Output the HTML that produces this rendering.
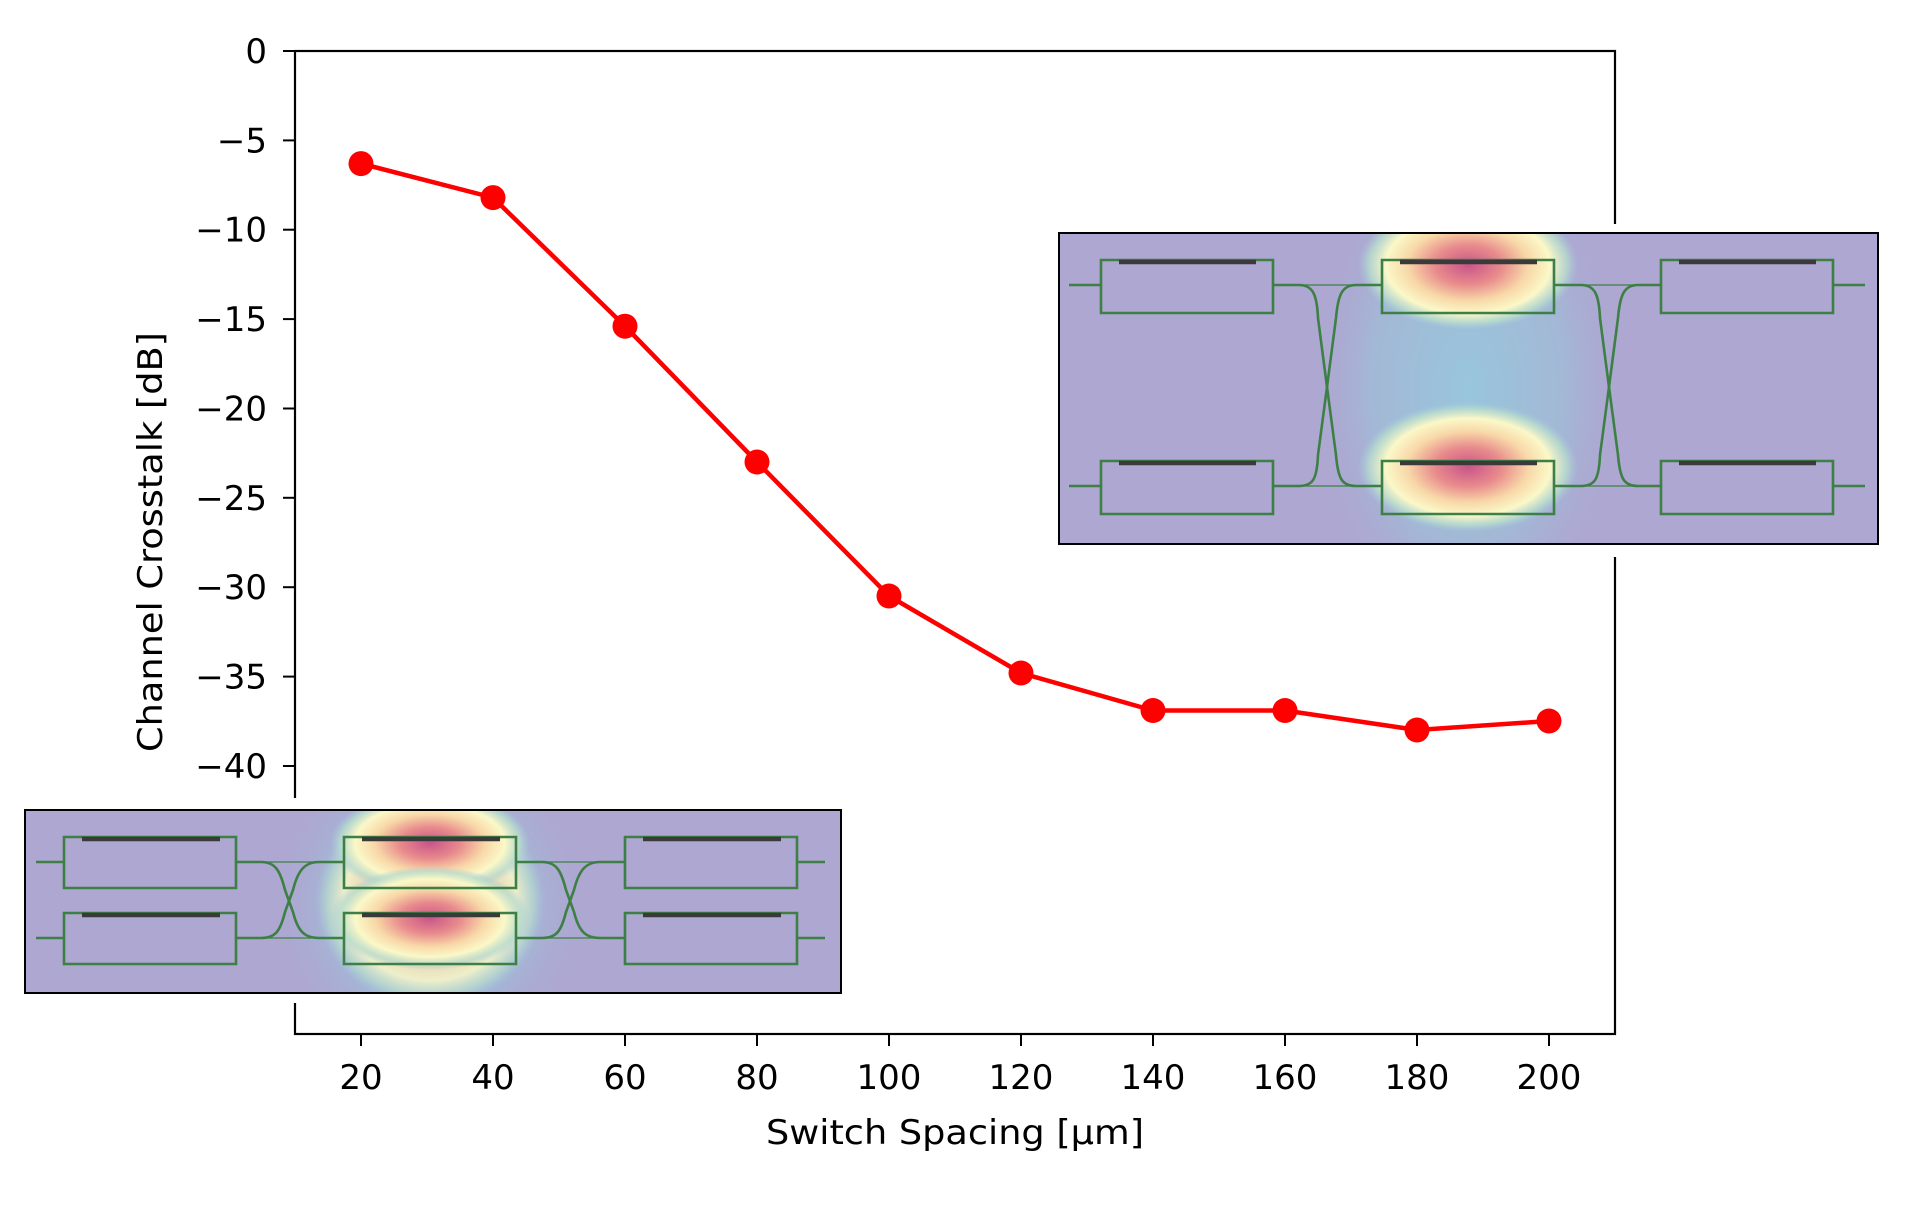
<!DOCTYPE html>
<html><head><meta charset="utf-8"><style>html,body{margin:0;padding:0;background:#fff}svg{display:block}</style></head>
<body>
<svg width="1920" height="1207" viewBox="0 0 1920 1207" xmlns="http://www.w3.org/2000/svg" font-family="DejaVu Sans, Liberation Sans, sans-serif">
<defs>
  <radialGradient id="hot" cx="0.5" cy="0.5" r="0.5">
    <stop offset="0" stop-color="#c8558a"/>
    <stop offset="0.3" stop-color="#e88a8c"/>
    <stop offset="0.55" stop-color="#f8d8a8"/>
    <stop offset="0.75" stop-color="#fbf8c8"/>
    <stop offset="0.9" stop-color="#b8dccc" stop-opacity="0.8"/>
    <stop offset="1" stop-color="#a8cadc" stop-opacity="0"/>
  </radialGradient>
  <radialGradient id="blue" cx="0.5" cy="0.5" r="0.5">
    <stop offset="0" stop-color="#98c6dc"/>
    <stop offset="0.6" stop-color="#9ec0d8" stop-opacity="0.7"/>
    <stop offset="1" stop-color="#aaa8d2" stop-opacity="0"/>
  </radialGradient>
  <clipPath id="c1"><rect x="0" y="0" width="819" height="311"/></clipPath>
  <clipPath id="c2"><rect x="0" y="0" width="816" height="183"/></clipPath>
  <g id="mzi">
    <path d="M0,25 L0,0 L172,0 L172,25 M0,25 L0,53 L172,53 L172,25" fill="none" stroke="#3d7f45" stroke-width="2.6"/>
    <line x1="18" y1="2" x2="155" y2="2" stroke="#3a3a3a" stroke-width="4.5"/>
  </g>
  <g id="mzi2">
    <path d="M0,25 L0,0 L172,0 L172,25 M0,25 L0,51 L172,51 L172,25" fill="none" stroke="#3d7f45" stroke-width="2.6"/>
    <line x1="18" y1="2" x2="156" y2="2" stroke="#3a3a3a" stroke-width="4.5"/>
  </g>
</defs>

<!-- axes -->
<rect x="295" y="51" width="1320" height="983" fill="none" stroke="#000" stroke-width="2.2"/>
<g stroke="#000" stroke-width="2">
  <line x1="283" y1="51" x2="295" y2="51"/><line x1="283" y1="140.4" x2="295" y2="140.4"/>
  <line x1="283" y1="229.7" x2="295" y2="229.7"/><line x1="283" y1="319.1" x2="295" y2="319.1"/>
  <line x1="283" y1="408.5" x2="295" y2="408.5"/><line x1="283" y1="497.8" x2="295" y2="497.8"/>
  <line x1="283" y1="587.2" x2="295" y2="587.2"/><line x1="283" y1="676.6" x2="295" y2="676.6"/>
  <line x1="283" y1="766" x2="295" y2="766"/>
  <line x1="361" y1="1034" x2="361" y2="1046"/><line x1="493" y1="1034" x2="493" y2="1046"/>
  <line x1="625" y1="1034" x2="625" y2="1046"/><line x1="757" y1="1034" x2="757" y2="1046"/>
  <line x1="889" y1="1034" x2="889" y2="1046"/><line x1="1021" y1="1034" x2="1021" y2="1046"/>
  <line x1="1153" y1="1034" x2="1153" y2="1046"/><line x1="1285" y1="1034" x2="1285" y2="1046"/>
  <line x1="1417" y1="1034" x2="1417" y2="1046"/><line x1="1549" y1="1034" x2="1549" y2="1046"/>
</g>
<g font-size="34" fill="#000" text-anchor="end">
  <text x="267" y="63">0</text><text x="267" y="152.4">−5</text><text x="267" y="241.7">−10</text>
  <text x="267" y="331.1">−15</text><text x="267" y="420.5">−20</text><text x="267" y="509.8">−25</text>
  <text x="267" y="599.2">−30</text><text x="267" y="688.6">−35</text><text x="267" y="778">−40</text>
</g>
<g font-size="34" fill="#000" text-anchor="middle">
  <text x="361" y="1089">20</text><text x="493" y="1089">40</text><text x="625" y="1089">60</text>
  <text x="757" y="1089">80</text><text x="889" y="1089">100</text><text x="1021" y="1089">120</text>
  <text x="1153" y="1089">140</text><text x="1285" y="1089">160</text><text x="1417" y="1089">180</text>
  <text x="1549" y="1089">200</text>
  <text x="955" y="1144" textLength="378" lengthAdjust="spacingAndGlyphs">Switch Spacing [μm]</text>
  <text transform="translate(162,542) rotate(-90)" textLength="420" lengthAdjust="spacingAndGlyphs">Channel Crosstalk [dB]</text>
</g>

<!-- series -->
<polyline points="361,163.6 493,197.6 625,326.2 757,462 889,596 1021,673 1153,710.5 1285,710.5 1417,730 1549,721" fill="none" stroke="#ff0000" stroke-width="4.5"/>
<g fill="#ff0000">
  <circle cx="361" cy="163.6" r="12.5"/><circle cx="493" cy="197.6" r="12.5"/><circle cx="625" cy="326.2" r="12.5"/>
  <circle cx="757" cy="462" r="12.5"/><circle cx="889" cy="596" r="12.5"/><circle cx="1021" cy="673" r="12.5"/>
  <circle cx="1153" cy="710.5" r="12.5"/><circle cx="1285" cy="710.5" r="12.5"/><circle cx="1417" cy="730" r="12.5"/>
  <circle cx="1549" cy="721" r="12.5"/>
</g>

<!-- inset 1 -->
<rect x="1049" y="224" width="850" height="333" fill="#fff"/>
<g transform="translate(1059,233)">
  <g clip-path="url(#c1)">
  <rect x="0" y="0" width="819" height="311" fill="#aea7d1"/>
  <ellipse cx="409" cy="155" rx="160" ry="260" fill="url(#blue)"/>
  <ellipse cx="409" cy="32" rx="110" ry="65" fill="url(#hot)"/>
  <ellipse cx="409" cy="234" rx="110" ry="65" fill="url(#hot)"/>
  </g>
  <g fill="none" stroke="#3d7f45" stroke-width="2.6">
    <line x1="10" y1="52" x2="42" y2="52"/><line x1="10" y1="253" x2="42" y2="253"/>
    <line x1="774" y1="52" x2="806" y2="52"/><line x1="774" y1="253" x2="806" y2="253"/>
    <path d="M213,52 H240 C254,52 258,62 259,85 L268,154 L277,222 C279,246 283,253 297,253 H323"/>
    <path d="M323,52 H297 C283,52 279,62 277,85 L268,154 L259,222 C258,246 254,253 240,253 H213"/>
    <path d="M495,52 H522 C536,52 540,62 541,85 L550,154 L559,222 C561,246 565,253 579,253 H602"/>
    <path d="M602,52 H579 C565,52 561,62 559,85 L550,154 L541,222 C540,246 536,253 522,253 H495"/>
    <g stroke-width="1.3"><line x1="240" y1="52" x2="297" y2="52"/><line x1="240" y1="253" x2="297" y2="253"/>
    <line x1="522" y1="52" x2="579" y2="52"/><line x1="522" y1="253" x2="579" y2="253"/></g>
  </g>
  <use href="#mzi" x="42" y="27"/><use href="#mzi" x="323" y="27"/><use href="#mzi" x="602" y="27"/>
  <use href="#mzi" x="42" y="228"/><use href="#mzi" x="323" y="228"/><use href="#mzi" x="602" y="228"/>
  <rect x="0" y="0" width="819" height="311" fill="none" stroke="#000" stroke-width="2"/>
</g>

<!-- inset 2 -->
<rect x="14" y="798" width="838" height="205" fill="#fff"/>
<g transform="translate(25,810)">
  <g clip-path="url(#c2)">
  <rect x="0" y="0" width="816" height="183" fill="#aea7d1"/>
  <ellipse cx="405" cy="92" rx="160" ry="170" fill="url(#blue)"/>
  <ellipse cx="405" cy="92" rx="115" ry="105" fill="url(#hot)" opacity="0.85"/>
  <ellipse cx="405" cy="33" rx="100" ry="52" fill="url(#hot)"/>
  <ellipse cx="405" cy="108" rx="100" ry="52" fill="url(#hot)"/>
  </g>
  <g fill="none" stroke="#3d7f45" stroke-width="2.6">
    <line x1="11" y1="52" x2="39" y2="52"/><line x1="11" y1="128" x2="39" y2="128"/>
    <line x1="771" y1="52" x2="800" y2="52"/><line x1="771" y1="128" x2="800" y2="128"/>
    <path d="M210,52 H236 C250,52 255,60 260,80 L264,91 L268,102 C273,122 280,128 294,128 H319"/>
    <path d="M319,52 H294 C280,52 273,60 268,80 L264,91 L260,102 C255,122 250,128 236,128 H210"/>
    <path d="M491,52 H517 C531,52 536,60 541,80 L545,91 L549,102 C554,122 561,128 575,128 H600"/>
    <path d="M600,52 H575 C561,52 554,60 549,80 L545,91 L541,102 C536,122 531,128 517,128 H491"/>
    <g stroke-width="1.3"><line x1="236" y1="52" x2="294" y2="52"/><line x1="236" y1="128" x2="294" y2="128"/>
    <line x1="517" y1="52" x2="575" y2="52"/><line x1="517" y1="128" x2="575" y2="128"/></g>
  </g>
  <use href="#mzi2" x="39" y="27"/><use href="#mzi2" x="319" y="27"/><use href="#mzi2" x="600" y="27"/>
  <use href="#mzi2" x="39" y="103"/><use href="#mzi2" x="319" y="103"/><use href="#mzi2" x="600" y="103"/>
  <rect x="0" y="0" width="816" height="183" fill="none" stroke="#000" stroke-width="2"/>
</g>
</svg>
</body></html>
